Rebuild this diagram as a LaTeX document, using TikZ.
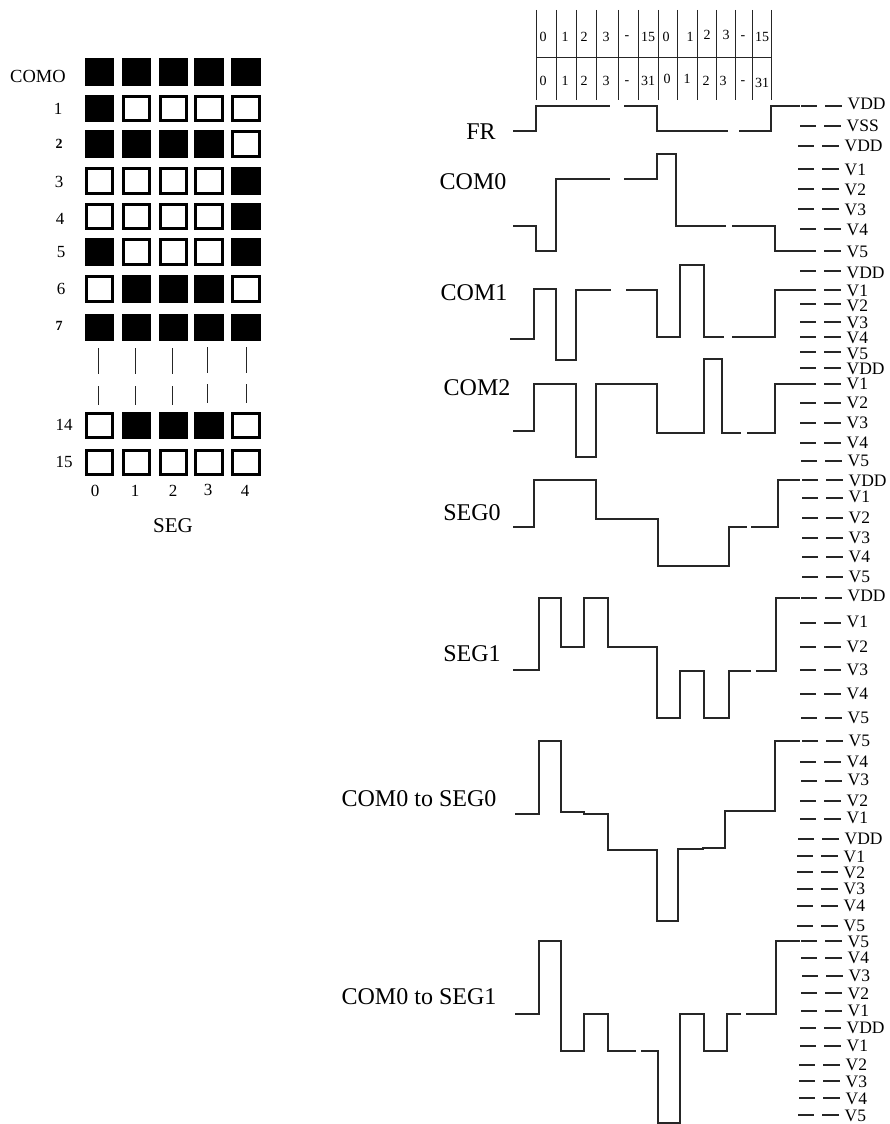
\documentclass[tikz,border=0pt]{standalone}
\usepackage{fontspec}
\setmainfont{Liberation Serif}
\newcommand{\fs}[1]{\fontsize{#1}{#1}\selectfont}
\newcounter{lvlc}
\newcommand{\lvl}[4]{% y tick, x start, label, y label
  \stepcounter{lvlc}
  \draw[wave] (#2,#1) -- ++(15.5,0) ++(8.5,0) -- ++(16.5,0);
  \node[lvltext] (lvl\arabic{lvlc}) at (#2+46.5,#4) {#3};
}
\newcommand{\cellrow}[7]{% top, bottom, five flags (1 filled/0 hollow)
  \foreach \fl/\xa/\xb in {#3/85/114,#4/122/151,#5/159/188,#6/194/224,#7/231/261} {
    \ifnum\fl=1
      \fill[black] (\xa,#1) rectangle (\xb,#2);
    \else
      \draw[hollow] (\xa+1.3,#1+1.3) rectangle (\xb-1.3,#2-1.3);
    \fi
  }
}
\tikzset{
  wave/.style={line width=1.1pt,draw=black!85,line cap=butt,line join=miter},
  hollow/.style={line width=2.6pt,draw=black,fill=white},
  tick/.style={line width=1pt,draw=black!85},
  lvltext/.style={anchor=west,inner sep=0pt,font=\fs{17.5}},
  tnum/.style={inner sep=0pt,font=\fs{14}},
  rowlab/.style={inner sep=0pt,font=\fs{17}},
  biglab/.style={inner sep=0pt,font=\fs{24}}
}
\begin{document}
\begin{tikzpicture}[x=1pt,y=-1pt]
\useasboundingbox (0,0) rectangle (889,1124);
% --- grid ---
\cellrow{58}{86}{1}{1}{1}{1}{1}
\cellrow{95}{122}{1}{0}{0}{0}{0}
\cellrow{130}{158}{1}{1}{1}{1}{0}
\cellrow{167}{195}{0}{0}{0}{0}{1}
\cellrow{203}{230}{0}{0}{0}{0}{1}
\cellrow{238}{266}{1}{0}{0}{0}{1}
\cellrow{275}{303}{0}{1}{1}{1}{0}
\cellrow{314}{341}{1}{1}{1}{1}{1}
\cellrow{412}{439}{0}{1}{1}{1}{0}
\cellrow{449}{476}{0}{0}{0}{0}{0}
\foreach \x/\a/\b/\c/\d in {98/348/374/386/405,135/348/374/386/405,172/348/374/386/405,207/347/373/384/403,246/347/373/384/403}{
  \draw[tick] (\x,\a) -- (\x,\b);
  \draw[tick] (\x,\c) -- (\x,\d);
}
\node[rowlab,font=\fs{18.5}] (como) at (38,76) {COMO};
\node[rowlab] (r1) at (58,109) {1};
\node[rowlab,font=\bfseries\fs{14}] (r2) at (59,144) {2};
\node[rowlab] (r3) at (59,182) {3};
\node[rowlab] (r4) at (60,219) {4};
\node[rowlab] (r5) at (61,252) {5};
\node[rowlab] (r6) at (61,289) {6};
\node[rowlab,font=\bfseries\fs{14}] (r7) at (59,326) {7};
\node[rowlab] (r14) at (64,425) {14};
\node[rowlab] (r15) at (64,462) {15};
\node[rowlab] (c0) at (95,491) {0};
\node[rowlab] (c1) at (135,491) {1};
\node[rowlab] (c2) at (173,491) {2};
\node[rowlab] (c3) at (208,490) {3};
\node[rowlab] (c4) at (245,491) {4};
\node[inner sep=0pt,font=\fs{21}] (seg) at (173,526) {SEG};
% --- table ---
\foreach \x in {536,556,576,596,618,638,658,677,697,716,735,752,771}
  \draw[tick] (\x,10) -- (\x,100);
\draw[tick] (536,57.5) -- (771,57.5);
\foreach \x/\y/\t [count=\i] in {543/37/0,565/37/1,584/37/2,606/37/3,627/38/-,648/37/15,666/37/0,690/37/1,707/35/2,726/35/3,743/38/-,762/37/15}
  \node[tnum] (ta\i) at (\x,\y) {\t};
\foreach \x/\y/\t [count=\i] in {543/81/0,565/81/1,584/81/2,606/81/3,627/83/-,648/81/31,667/79/0,687/79/1,706/81/2,723/81/3,743/83/-,762/83/31}
  \node[tnum] (tb\i) at (\x,\y) {\t};
% --- waveform labels ---
\node[biglab] (fr) at (481,132) {FR};
\node[biglab] (com0) at (473,182) {COM0};
\node[biglab] (com1) at (474,293) {COM1};
\node[biglab] (com2) at (477,388) {COM2};
\node[biglab] (seg0) at (472,513) {SEG0};
\node[biglab] (seg1) at (472,654) {SEG1};
\node[biglab] (cs0) at (419,799) {COM0 to SEG0};
\node[biglab] (cs1) at (419,997) {COM0 to SEG1};
% --- waveforms ---
\draw[wave] (513,131) -| (536,106) -- (610,106);
\draw[wave] (624,106) -- (657,106) |- (728,131);
\draw[wave] (739,131) -- (771,131) |- (800,106);

\draw[wave] (513,226) -| (536,251) -| (556,179) -- (610,179);
\draw[wave] (624,179) -- (657,179) |- (676,154) |- (726,226);
\draw[wave] (732,226) -- (775,226) |- (800,251);

\draw[wave] (510,339) -| (534,289) -| (556,360) -| (576,290) -- (611,290);
\draw[wave] (626,290) -- (657,290) |- (680,337) |- (704,265) |- (724,337);
\draw[wave] (732,337) -- (775,337) |- (800,290);

\draw[wave] (513,431) -| (534,384) -| (576,457) -| (596,384) -| (657,433) -| (704,359) -| (722,433) -- (741,433);
\draw[wave] (747,433) -- (775,433) |- (800,384);

\draw[wave] (513,527) -| (534,480) -| (596,519) -| (658,566) -| (729,527) -- (747,527);
\draw[wave] (751,527) -- (778,527) |- (800,480);

\draw[wave] (513,670) -| (539,598) -| (561,647) -| (584,598) -| (608,647) -| (657,718) -| (680,671) -| (704,718) -| (729,671) -- (751,671);
\draw[wave] (756,671) -- (776,671) |- (800,598);

\draw[wave] (515,814) -| (539,741) -| (561,812) -- (584,812) -- (584,814) -| (608,850) -| (657,921) -| (678,849) -- (703,849) -- (703,848) -| (725,811) -| (775,741) -- (800,741);

\draw[wave] (515,1014) -| (539,941) -| (561,1051) -| (584,1014) -| (608,1051) -- (636,1051);
\draw[wave] (641,1051) -| (658,1123) -| (680,1014) -| (704,1051) -| (727,1014) -- (741,1014);
\draw[wave] (746,1014) -- (776,1014) |- (800,941);
% --- level ticks ---
\lvl{106}{801}{VDD}{104}
\lvl{126}{800}{VSS}{126}
\lvl{146}{798}{VDD}{146}
\lvl{169}{798}{V1}{170}
\lvl{189}{798}{V2}{190}
\lvl{209}{798}{V3}{210}
\lvl{229}{800}{V4}{230}
\lvl{251}{800}{V5}{252}
\lvl{271}{800}{VDD}{273}
\lvl{290}{800}{V1}{291}
\lvl{304}{800}{V2}{306}
\lvl{322}{800}{V3}{323}
\lvl{337}{800}{V4}{338}
\lvl{352}{800}{V5}{354}
\lvl{368}{800}{VDD}{369}
\lvl{384}{800}{V1}{384}
\lvl{403}{800}{V2}{403}
\lvl{423}{800}{V3}{423}
\lvl{443}{800}{V4}{443}
\lvl{461}{801}{V5}{461}
\lvl{480}{802}{VDD}{481}
\lvl{498}{802}{V1}{497}
\lvl{518}{802}{V2}{518}
\lvl{538}{802}{V3}{538}
\lvl{557}{802}{V4}{557}
\lvl{577}{802}{V5}{577}
\lvl{598}{801}{VDD}{596}
\lvl{623}{800}{V1}{622}
\lvl{647}{800}{V2}{647}
\lvl{670}{800}{V3}{670}
\lvl{694}{800}{V4}{694}
\lvl{718}{801}{V5}{718}
\lvl{741}{802}{V5}{741}
\lvl{762}{800}{V4}{762}
\lvl{781}{801}{V3}{780}
\lvl{801}{800}{V2}{801}
\lvl{819}{800}{V1}{818}
\lvl{839}{798}{VDD}{839}
\lvl{856}{797}{V1}{857}
\lvl{872}{797}{V2}{873}
\lvl{889}{797}{V3}{889}
\lvl{906}{797}{V4}{906}
\lvl{926}{797}{V5}{926}
\lvl{941}{801}{V5}{942}
\lvl{958}{801}{V4}{958}
\lvl{976}{802}{V3}{976}
\lvl{993}{801}{V2}{994}
\lvl{1011}{801}{V1}{1011}
\lvl{1028}{800}{VDD}{1028}
\lvl{1046}{800}{V1}{1046}
\lvl{1065}{799}{V2}{1065}
\lvl{1081}{799}{V3}{1082}
\lvl{1098}{799}{V4}{1099}
\lvl{1115}{798}{V5}{1116}
\end{tikzpicture}
\end{document}
